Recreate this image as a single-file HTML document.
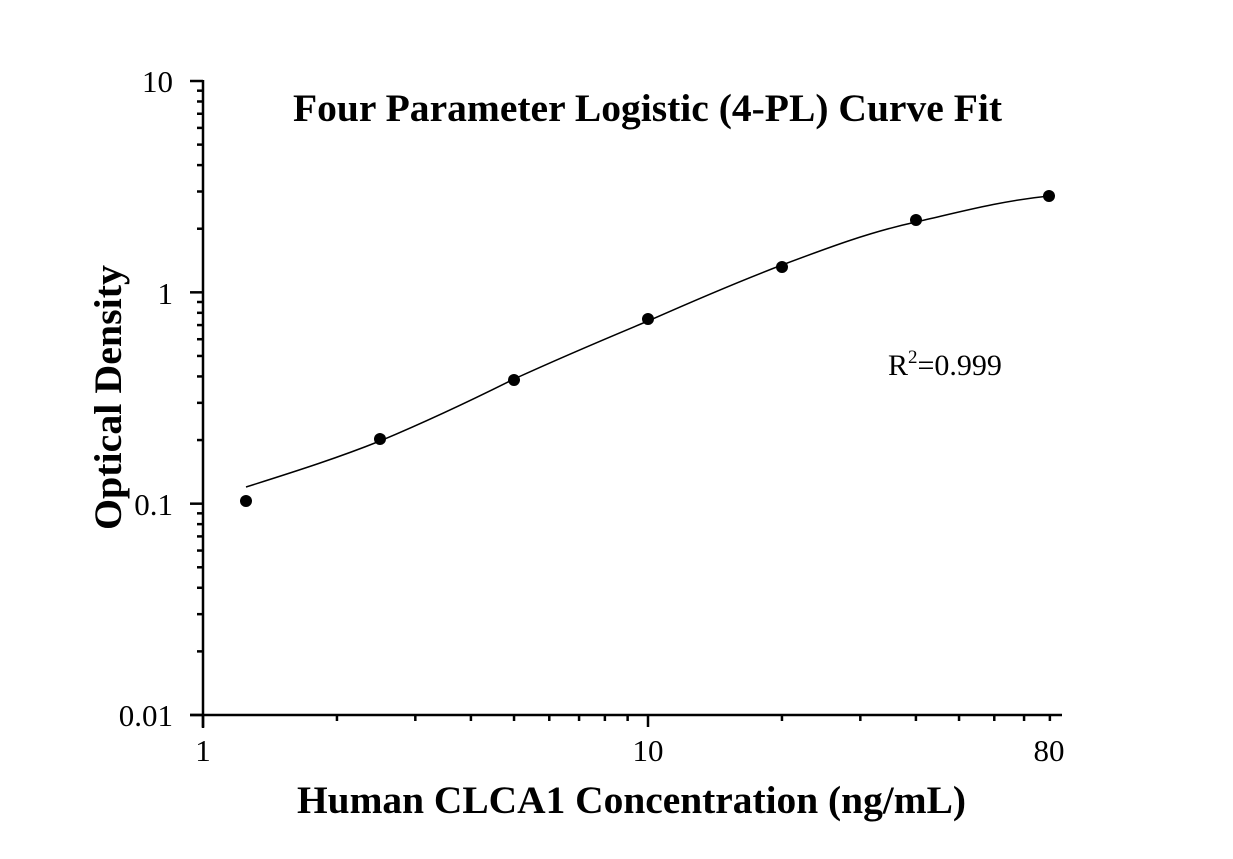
<!DOCTYPE html>
<html><head><meta charset="utf-8"><style>
html,body{margin:0;padding:0;background:#fff;}
svg{display:block;font-family:"Liberation Serif",serif;}
</style></head><body>
<svg id="s" width="1233" height="859" viewBox="0 0 1233 859" xmlns="http://www.w3.org/2000/svg">
<rect width="1233" height="859" fill="#fff"/>
<g id="ax" stroke="#000" stroke-width="2.5" fill="none">
<line x1="203" y1="80" x2="203" y2="728"/>
<line x1="190" y1="715" x2="1062" y2="715"/>
</g>
<path d="M246,487 C300,470 340,457 380,441 C430,420 470,401 514,379 C560,358 600,341 648,321 C700,298 740,281 782,265 C830,247 870,232 916,222 C960,212 1000,201 1049,196" stroke="#000" stroke-width="1.5" fill="none"/>
<g fill="#000">
<circle cx="246" cy="501" r="6"/><circle cx="380" cy="439" r="6"/><circle cx="514" cy="380" r="6"/>
<circle cx="648" cy="319" r="6"/><circle cx="782" cy="267" r="6"/><circle cx="916" cy="220" r="6"/>
<circle cx="1049" cy="196" r="6"/>
</g>
<g font-size="31" fill="#000" text-anchor="end">
<text x="173" y="92">10</text><text x="173" y="304">1</text><text x="173" y="515">0.1</text><text x="173" y="726">0.01</text>
</g>
<g font-size="31" fill="#000" text-anchor="middle">
<text x="203" y="761">1</text><text x="648" y="761">10</text><text x="1049" y="761">80</text>
</g>
<text x="293" y="121" font-size="39" font-weight="bold" textLength="709" lengthAdjust="spacingAndGlyphs">Four Parameter Logistic (4-PL) Curve Fit</text>
<text x="297" y="813" font-size="39" font-weight="bold" textLength="669" lengthAdjust="spacingAndGlyphs">Human CLCA1 Concentration (ng/mL)</text>
<text transform="translate(121,530) rotate(-90)" font-size="39" font-weight="bold" textLength="265" lengthAdjust="spacingAndGlyphs">Optical Density</text>
<text x="888" y="375" font-size="30">R<tspan font-size="19" dy="-12">2</tspan><tspan dy="12">=0.999</tspan></text>
</svg>
<script>
var ax=document.getElementById('ax'),ns='http://www.w3.org/2000/svg';
function L(a,b,c,d){var l=document.createElementNS(ns,'line');l.setAttribute('x1',a);l.setAttribute('y1',b);l.setAttribute('x2',c);l.setAttribute('y2',d);ax.appendChild(l);}
var X0=203,XD=445,Y0=715,YD=211.33;
for(var e=0;e<3;e++)for(var k=1;k<10;k++){var v=Math.log10(k)+e;var y=Y0-v*YD; L(k==1?190:197,y,203,y);}
L(190,Y0-3*YD,203,Y0-3*YD);
for(var e=0;e<2;e++)for(var k=1;k<10;k++){var n=k*Math.pow(10,e);if(n>80)continue;var x=X0+Math.log10(n)*XD;L(x,715,x,k==1?727:721);}
</script>
</body></html>
